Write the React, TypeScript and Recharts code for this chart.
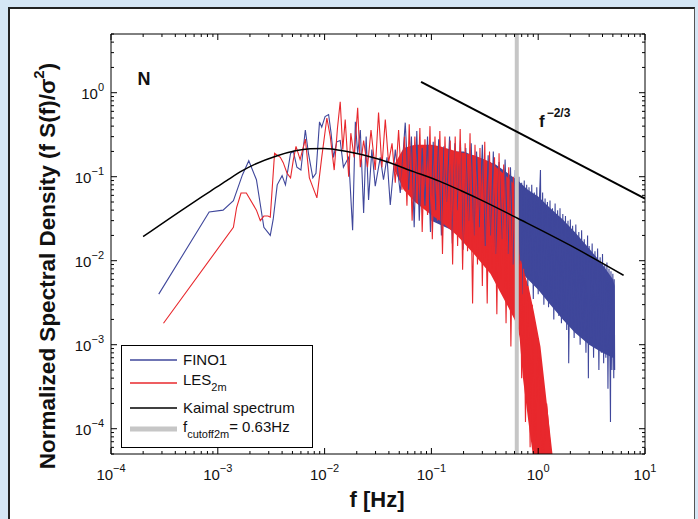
import React from "react";
import { ComposedChart, Line, Area, XAxis, YAxis, ReferenceLine } from "recharts";

// values: [f (Hz), f S(f)/sigma^2]
const FINO1: [number, number][] = [
  [2.8e-4, 0.004], [8.3e-4, 0.038], [1.12e-3, 0.04], [1.4e-3, 0.052], [1.7e-3, 0.105],
  [1.95e-3, 0.155], [2.3e-3, 0.092], [2.7e-3, 0.025], [3.1e-3, 0.02], [3.3e-3, 0.031],
  [3.6e-3, 0.08], [4.0e-3, 0.103], [4.3e-3, 0.08], [4.8e-3, 0.19], [5.1e-3, 0.2],
  [5.5e-3, 0.13], [6.0e-3, 0.12], [6.6e-3, 0.36], [7.06e-3, 0.19], [7.76e-3, 0.097],
  [8.3e-3, 0.11], [8.96e-3, 0.45], [9.4e-3, 0.39], [0.0101, 0.52], [0.0109, 0.55],
  [0.0115, 0.33], [0.0121, 0.17], [0.013, 0.26], [0.014, 0.27], [0.015, 0.13],
  [0.0168, 0.17], [0.0183, 0.023], [0.0194, 0.45], [0.0204, 0.19], [0.0216, 0.36],
  [0.0232, 0.037], [0.0245, 0.3], [0.0258, 0.053], [0.0277, 0.21], [0.0298, 0.077],
  [0.0332, 0.17], [0.0356, 0.092], [0.0384, 0.17], [0.0412, 0.046], [0.0459, 0.21],
  [0.0511, 0.064], [0.0569, 0.44], [0.0611, 0.07], [0.065, 0.3], [0.069, 0.025],
  [0.073, 0.35], [0.077, 0.03], [0.082, 0.22], [0.087, 0.045], [0.092, 0.3],
  [0.098, 0.022], [0.104, 0.26], [0.11, 0.04], [0.117, 0.28], [0.124, 0.02],
  [0.131, 0.23], [0.139, 0.05], [0.148, 0.3], [0.157, 0.016], [0.166, 0.25],
  [0.176, 0.04], [0.187, 0.27], [0.198, 0.0135], [0.21, 0.22], [0.223, 0.03],
  [0.236, 0.25], [0.25, 0.02], [0.265, 0.2], [0.28, 0.025], [0.3, 0.24],
  [0.32, 0.015], [0.34, 0.18], [0.36, 0.02], [0.38, 0.2], [0.4, 0.012],
  [0.43, 0.15], [0.46, 0.018], [0.49, 0.16], [0.52, 0.012], [0.55, 0.13],
  [0.58, 0.009], [0.61, 0.12], [0.64, 0.006], [0.66, 0.1], [0.68, 0.009],
  [0.7, 0.085], [0.72, 0.004], [0.74, 0.09], [0.76, 0.007], [0.78, 0.08],
  [0.8, 0.005], [0.82, 0.075], [0.85, 0.006], [0.87, 0.08], [0.9, 0.0035],
  [0.92, 0.065], [0.95, 0.005], [0.97, 0.075], [1.0, 0.004], [1.03, 0.06],
  [1.05, 0.12], [1.07, 0.005], [1.1, 0.065], [1.13, 0.003], [1.16, 0.055],
  [1.19, 0.004], [1.22, 0.05], [1.25, 0.0028], [1.29, 0.052], [1.32, 0.0035],
  [1.36, 0.042], [1.4, 0.002], [1.44, 0.048], [1.48, 0.003], [1.52, 0.04],
  [1.56, 0.0022], [1.6, 0.042], [1.65, 0.0018], [1.7, 0.036], [1.75, 0.0025],
  [1.8, 0.034], [1.85, 0.0015], [1.9, 0.03], [1.93, 0.0006], [2.0, 0.031],
  [2.05, 0.0017], [2.1, 0.026], [2.17, 0.0012], [2.25, 0.027], [2.32, 0.0015],
  [2.4, 0.022], [2.47, 0.001], [2.55, 0.023], [2.62, 0.0013], [2.7, 0.018],
  [2.8, 0.0008], [2.9, 0.02], [2.95, 0.0004], [3.0, 0.015], [3.1, 0.001],
  [3.2, 0.016], [3.3, 0.0007], [3.4, 0.013], [3.5, 0.0009], [3.6, 0.014],
  [3.7, 0.0005], [3.8, 0.011], [3.9, 0.0008], [4.0, 0.012], [4.1, 0.0006],
  [4.2, 0.009], [4.3, 0.0007], [4.4, 0.0095], [4.5, 0.0003], [4.6, 0.008],
  [4.7, 0.0006], [4.75, 0.00012], [4.8, 0.0075], [4.9, 0.0005], [5.0, 0.007],
  [5.1, 0.0004], [5.15, 0.006], [5.2, 0.0005],
];

const LES: [number, number][] = [
  [3.1e-4, 0.0018], [1.4e-3, 0.025], [1.5e-3, 0.043], [1.65e-3, 0.064], [1.85e-3, 0.064],
  [2.3e-3, 0.04], [2.5e-3, 0.03], [2.7e-3, 0.034], [2.95e-3, 0.034], [3.1e-3, 0.033],
  [3.4e-3, 0.19], [3.85e-3, 0.17], [4.1e-3, 0.147], [4.45e-3, 0.11], [4.8e-3, 0.097],
  [5.1e-3, 0.16], [5.4e-3, 0.23], [5.9e-3, 0.16], [6.6e-3, 0.28], [7.2e-3, 0.097],
  [8.47e-3, 0.056], [9.4e-3, 0.17], [0.0105, 0.5], [0.0113, 0.3], [0.0123, 0.12],
  [0.0132, 0.38], [0.014, 0.78], [0.0148, 0.21], [0.0156, 0.48], [0.0168, 0.1],
  [0.0176, 0.33], [0.0189, 0.17], [0.0204, 0.66], [0.0216, 0.13], [0.0232, 0.27],
  [0.0252, 0.13], [0.0272, 0.36], [0.0298, 0.12], [0.032, 0.58], [0.0344, 0.13],
  [0.037, 0.48], [0.0397, 0.147], [0.0428, 0.25], [0.0459, 0.085], [0.0493, 0.36],
  [0.053, 0.07], [0.056, 0.3], [0.059, 0.045], [0.062, 0.42], [0.066, 0.03],
  [0.07, 0.3], [0.074, 0.05], [0.078, 0.38], [0.082, 0.022], [0.087, 0.28],
  [0.092, 0.035], [0.097, 0.4], [0.102, 0.018], [0.108, 0.3], [0.114, 0.03],
  [0.12, 0.35], [0.127, 0.012], [0.134, 0.3], [0.142, 0.025], [0.15, 0.27],
  [0.158, 0.009], [0.167, 0.3], [0.176, 0.015], [0.186, 0.37], [0.196, 0.0078],
  [0.207, 0.25], [0.218, 0.013], [0.23, 0.33], [0.243, 0.0031], [0.256, 0.24],
  [0.27, 0.009], [0.285, 0.22], [0.3, 0.005], [0.316, 0.26], [0.333, 0.0031],
  [0.35, 0.2], [0.37, 0.008], [0.39, 0.17], [0.41, 0.0023], [0.43, 0.19],
  [0.45, 0.006], [0.475, 0.14], [0.5, 0.0018], [0.53, 0.13], [0.555, 0.00095],
  [0.585, 0.1], [0.615, 0.0015], [0.64, 0.12], [0.66, 0.0024], [0.68, 0.01],
  [0.7, 0.0004], [0.73, 0.008], [0.76, 0.00012], [0.8, 0.005], [0.84, 0.00006],
  [0.88, 0.003], [0.93, 0.00004], [1.0, 0.0012], [1.1, 0.00003], [1.2, 0.0002],
  [1.36, 0.00003],
];

// solid core of the dense high-frequency part: [f, low, high]
const FINO1_BAND: [number, number, number][] = [
  [0.1, 0.03, 0.2], [0.2, 0.02, 0.2], [0.4, 0.012, 0.14], [0.645, 0.008, 0.09],
  [0.8, 0.006, 0.07], [1.0, 0.0045, 0.058], [1.3, 0.003, 0.042], [1.7, 0.002, 0.031],
  [2.2, 0.0014, 0.022], [3.0, 0.001, 0.014], [4.0, 0.0008, 0.009], [5.0, 0.0007, 0.006],
  [5.2, 0.0007, 0.005],
];

const LES_BAND: [number, number, number][] = [
  [0.045, 0.12, 0.14], [0.055, 0.07, 0.22], [0.07, 0.05, 0.24], [0.1, 0.035, 0.24],
  [0.12, 0.03, 0.23], [0.174, 0.02, 0.2], [0.25, 0.012, 0.18], [0.357, 0.007, 0.15],
  [0.51, 0.003, 0.1], [0.6, 0.002, 0.08], [0.645, 0.0016, 0.05], [0.67, 0.0012, 0.012],
  [0.72, 0.0004, 0.008], [0.81, 0.00012, 0.005], [0.91, 0.00004, 0.0025],
  [1.05, 0.00003, 0.00095], [1.36, 0.00003, 0.00005],
];

const KAIMAL: [number, number][] = [
  [2e-4, 0.0194], [5e-4, 0.043], [8.5e-4, 0.067], [1.21e-3, 0.09], [1.7e-3, 0.118],
  [3.6e-3, 0.178], [7.3e-3, 0.215], [0.0098, 0.217], [0.0162, 0.2], [0.033, 0.16],
  [0.068, 0.115], [0.12, 0.088], [0.19, 0.068], [0.29, 0.053], [0.64, 0.032],
  [2.0, 0.0152], [6.3, 0.0067],
];

const SLOPE_LINE: [number, number][] = [[0.08, 1.35], [10, 0.055]];

const CUTOFF = 0.63;

const X_DECADES = [1e-4, 1e-3, 1e-2, 1e-1, 1, 10];
const Y_DECADES = [1e-4, 1e-3, 1e-2, 1e-1, 1];

const BLUE = "#3f479b";
const RED = "#e8282d";
const GREY = "#c6c6c6";
const FONT = "'Liberation Sans', Arial, Helvetica, sans-serif";

const PLOT = { left: 111, top: 34, right: 645, bottom: 454 };
const Y_AXIS_W = 60;
const X_AXIS_H = 40;

function withMinors(decades: number[], lo: number, hi: number) {
  const out: number[] = [];
  const first = decades[0] / 10;
  for (const d of [first, ...decades]) {
    for (let k = 1; k <= 9; k++) {
      const v = d * k;
      if (v >= lo * 0.999 && v <= hi * 1.001) out.push(v);
    }
  }
  return out;
}

const xTicks = withMinors(X_DECADES, 1e-4, 10);
const yTicks = withMinors(Y_DECADES, 5e-5, 5);

const toPts = (rows: [number, number][]) => rows.map(([f, v]) => ({ f, v }));
const toBand = (rows: [number, number, number][]) => rows.map(([f, lo, hi]) => ({ f, range: [lo, hi] }));

function isDecade(v: number) {
  const l = Math.log10(v);
  return Math.abs(l - Math.round(l)) < 1e-6;
}

function expLabel(v: number) {
  return String(Math.round(Math.log10(v))).replace("-", "\u2212");
}

function XTick(props: any) {
  const { x, payload } = props;
  const v = payload.value;
  const major = isDecade(v);
  const len = major ? 6 : 3;
  return (
    <g>
      <line x1={x} x2={x} y1={PLOT.bottom} y2={PLOT.bottom - len} stroke="#000" strokeWidth={1} />
      <line x1={x} x2={x} y1={PLOT.top} y2={PLOT.top + len} stroke="#000" strokeWidth={1} />
      {major && (
        <text x={x} y={480} textAnchor="middle" fontFamily={FONT} fontSize={15} fill="#111">
          10
          <tspan dy={-8} fontSize={11}>{expLabel(v)}</tspan>
        </text>
      )}
    </g>
  );
}

function YTick(props: any) {
  const { y, payload } = props;
  const v = payload.value;
  const major = isDecade(v);
  const len = major ? 6 : 3;
  return (
    <g>
      <line x1={PLOT.left} x2={PLOT.left + len} y1={y} y2={y} stroke="#000" strokeWidth={1} />
      <line x1={PLOT.right} x2={PLOT.right - len} y1={y} y2={y} stroke="#000" strokeWidth={1} />
      {major && (
        <text x={104} y={y + 6} textAnchor="end" fontFamily={FONT} fontSize={15} fill="#111">
          10
          <tspan dy={-8} fontSize={11}>{expLabel(v)}</tspan>
        </text>
      )}
    </g>
  );
}

function LegendBox() {
  const rows = [
    { color: BLUE, width: 1.3, y: 15 },
    { color: RED, width: 1.3, y: 38 },
    { color: "#000", width: 1.3, y: 63 },
    { color: GREY, width: 5, y: 84 },
  ];
  return (
    <svg width={192} height={103} style={{ position: "absolute", left: 121, top: 345 }}>
      <rect x={0.5} y={0.5} width={191} height={102} fill="#fff" stroke="#000" strokeWidth={1} />
      {rows.map((r, i) => (
        <line key={i} x1={9} x2={56} y1={r.y} y2={r.y} stroke={r.color} strokeWidth={r.width} />
      ))}
      <text fontFamily={FONT} fontSize={15} fill="#111" x={62} y={20}>
        FINO1
      </text>
      <text fontFamily={FONT} fontSize={15} fill="#111" x={62} y={40}>
        LES<tspan dy={6} fontSize={11}>2m</tspan>
      </text>
      <text fontFamily={FONT} fontSize={15} fill="#111" x={62} y={68}>
        Kaimal spectrum
      </text>
      <text fontFamily={FONT} fontSize={15} fill="#111" x={62} y={87}>
        f<tspan dy={6} fontSize={11}>cutoff2m</tspan><tspan dy={-6}>= 0.63Hz</tspan>
      </text>
    </svg>
  );
}

export default function App() {
  return (
    <div style={{ position: "absolute", left: 0, top: 0, width: 698, height: 519, background: "#d5e6f5", overflow: "hidden" }}>
      <div
        style={{
          position: "absolute",
          left: 8,
          top: 7,
          width: 684,
          height: 530,
          background: "#fff",
          borderLeft: "2px solid #222",
          borderTop: "2px solid #222",
          borderRight: "1px solid #555",
        }}
      />
      <div style={{ position: "absolute", left: 0, top: 0 }}>
        <ComposedChart
          width={698}
          height={519}
          margin={{
            top: PLOT.top - 1,
            right: 698 - PLOT.right - 1,
            bottom: 519 - PLOT.bottom - X_AXIS_H,
            left: PLOT.left - Y_AXIS_W,
          }}
        >
          <XAxis
            xAxisId="b"
            dataKey="f"
            type="number"
            scale="log"
            domain={[1e-4, 10]}
            allowDataOverflow
            ticks={xTicks}
            interval={0}
            height={X_AXIS_H}
            tickLine={false}
            axisLine={{ stroke: "#000", strokeWidth: 1 }}
            tick={(p: any) => <XTick {...p} />}
          />
          <XAxis xAxisId="t" orientation="top" type="number" scale="log" domain={[1e-4, 10]} allowDataOverflow height={1} tick={false} tickLine={false} axisLine={{ stroke: "#000", strokeWidth: 1 }} />
          <YAxis
            yAxisId="l"
            type="number"
            scale="log"
            domain={[5e-5, 5]}
            allowDataOverflow
            ticks={yTicks}
            interval={0}
            width={Y_AXIS_W}
            tickLine={false}
            axisLine={{ stroke: "#000", strokeWidth: 1 }}
            tick={(p: any) => <YTick {...p} />}
          />
          <YAxis yAxisId="r" orientation="right" type="number" scale="log" domain={[5e-5, 5]} allowDataOverflow width={1} tick={false} tickLine={false} axisLine={{ stroke: "#000", strokeWidth: 1 }} />

          <Area xAxisId="b" yAxisId="l" data={toBand(FINO1_BAND)} dataKey="range" type="linear" stroke="none" fill={BLUE} fillOpacity={1} isAnimationActive={false} />
          <Line xAxisId="b" yAxisId="l" data={toPts(FINO1)} dataKey="v" type="linear" stroke={BLUE} strokeWidth={1.1} dot={false} isAnimationActive={false} />
          <Area xAxisId="b" yAxisId="l" data={toBand(LES_BAND)} dataKey="range" type="linear" stroke="none" fill={RED} fillOpacity={1} isAnimationActive={false} />
          <Line xAxisId="b" yAxisId="l" data={toPts(LES)} dataKey="v" type="linear" stroke={RED} strokeWidth={1.1} dot={false} isAnimationActive={false} />
          <ReferenceLine xAxisId="b" yAxisId="l" x={CUTOFF} stroke={GREY} strokeWidth={4} />
          <Line xAxisId="b" yAxisId="l" data={toPts(KAIMAL)} dataKey="v" type="monotone" stroke="#000" strokeWidth={1.5} dot={false} isAnimationActive={false} />
          <Line xAxisId="b" yAxisId="l" data={toPts(SLOPE_LINE)} dataKey="v" type="linear" stroke="#000" strokeWidth={2} dot={false} isAnimationActive={false} />
        </ComposedChart>
      </div>
      <LegendBox />
      <svg width={698} height={519} style={{ position: "absolute", left: 0, top: 0, pointerEvents: "none" }}>
        <text x={144} y={85} textAnchor="middle" fontFamily={FONT} fontWeight="bold" fontSize={18} fill="#111">
          N
        </text>
        <text x={539} y={127} fontFamily={FONT} fontWeight="bold" fontSize={17} fill="#111">
          f<tspan dx={2} dy={-10} fontSize={12}>−2/3</tspan>
        </text>
        <text x={377} y={507} textAnchor="middle" fontFamily={FONT} fontWeight="bold" fontSize={22} fill="#111">
          f [Hz]
        </text>
        <text
          x={47}
          y={266}
          transform="rotate(-90 47 266)"
          textAnchor="middle"
          dominantBaseline="central"
          fontFamily={FONT}
          fontWeight="bold"
          fontSize={22.5}
          fill="#111"
        >
          Normalized Spectral Density (f S(f)/σ<tspan dy={-9} fontSize={15}>2</tspan>
          <tspan dy={9}>)</tspan>
        </text>
      </svg>
    </div>
  );
}
